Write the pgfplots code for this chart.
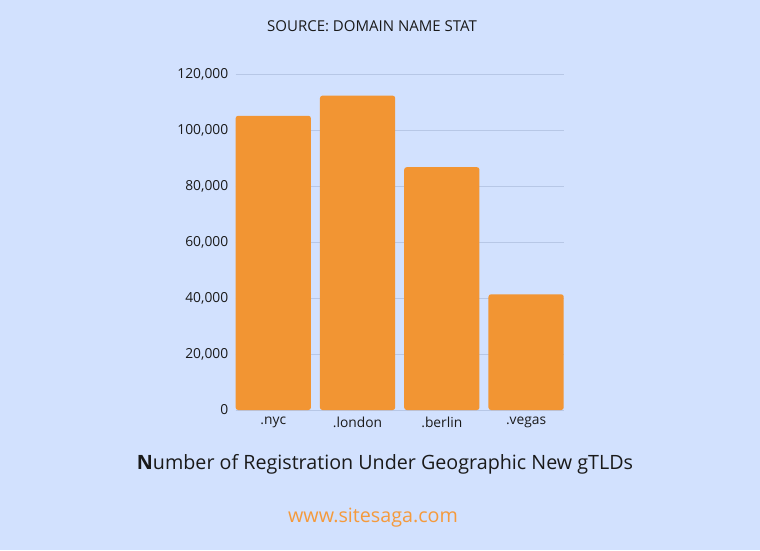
\documentclass[border=0pt]{standalone}
\usepackage{pgfplots}
\pgfplotsset{compat=1.18}
\usepackage{fontspec}
\setmainfont{Open Sans}
\definecolor{bg}{HTML}{D2E1FE}
\definecolor{barc}{HTML}{F29533}
\definecolor{gridc}{HTML}{B7C7E6}
\definecolor{webc}{HTML}{F59A3C}
\definecolor{txt}{HTML}{1A1A1A}
\begin{document}
\begin{tikzpicture}[x=1pt,y=1pt]
\fill[bg] (0,0) rectangle (760,550);
\begin{axis}[
  at={(235.7pt,140pt)}, anchor=south west,
  scale only axis, width=328pt, height=335.3pt,
  ymin=0, ymax=120000,
  xmin=-0.446, xmax=3.446,
  axis line style={draw=none},
  scaled y ticks=false,
  ytick={0,20000,40000,60000,80000,100000,120000},
  yticklabels={0,{20,000},{40,000},{60,000},{80,000},{100,000},{120,000}},
  xtick={0,1,2,3},
  xticklabels={.nyc,.london,.berlin,.vegas},
  ymajorgrids, grid style={gridc, line width=0.8pt},
  major tick length=0pt,
  tick label style={font=\fontsize{13.8}{16}\selectfont, text=txt},
  yticklabel style={xshift=-4pt},
  xticklabel style={yshift=-3pt},
  ybar, bar width=0.893,
]
\addplot[fill=barc, draw=none, rounded corners=2.5pt] coordinates {(0,105300) (1,112500) (2,86900) (3,41400)};
\end{axis}
\node[font=\fontsize{15}{18}\selectfont, text=txt] at (372,524) {SOURCE: DOMAIN NAME STAT};
\node[font=\fontsize{19.7}{23}\selectfont, text=txt] at (385,86) {\textbf{N}umber of Registration Under Geographic New gTLDs};
\node[font=\fontsize{19.7}{23}\selectfont, text=webc] at (373,32) {www.sitesaga.com};
\end{tikzpicture}
\end{document}
